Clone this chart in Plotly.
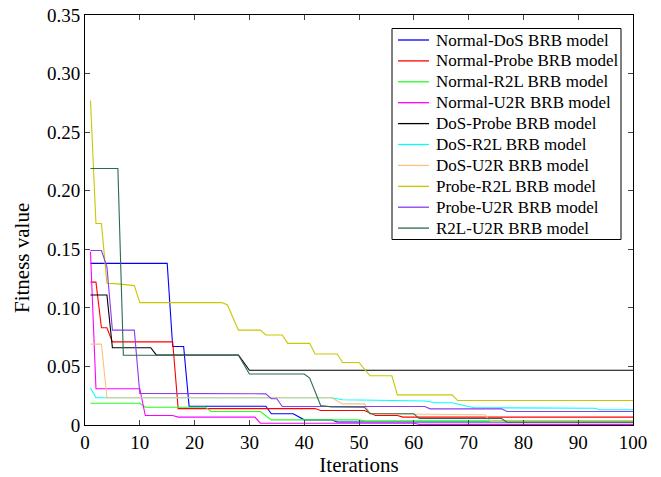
import plotly.graph_objects as go

names = ["Normal-DoS BRB model", "Normal-Probe BRB model", "Normal-R2L BRB model",
         "Normal-U2R BRB model", "DoS-Probe BRB model", "DoS-R2L BRB model",
         "DoS-U2R BRB model", "Probe-R2L BRB model", "Probe-U2R BRB model",
         "R2L-U2R BRB model"]

colors = ["#0000FF", "#FF0000", "#22FF22", "#FF00FF", "#000000", "#00FFFF",
          "#FFBF80", "#C8C800", "#8A3CF0", "#2E6B4A"]

# vertices (iteration, fitness)
normal_dos_x = [1, 15, 16, 18, 19, 33, 34, 38, 40, 45, 46, 100]
normal_dos_y = [0.138, 0.138, 0.067, 0.067, 0.016, 0.016, 0.0096, 0.0096, 0.0044, 0.0044, 0.0025, 0.0025]

normal_probe_x = [1, 2, 3, 4, 5, 16, 17, 42, 43, 51, 53, 57, 58, 100]
normal_probe_y = [0.122, 0.122, 0.083, 0.083, 0.071, 0.071, 0.014, 0.014, 0.0124, 0.0124, 0.0081, 0.0081, 0.0067, 0.0067]

normal_r2l_x = [1, 10, 11, 22, 23, 32, 34, 50, 51, 100]
normal_r2l_y = [0.0186, 0.0186, 0.0152, 0.0152, 0.0115, 0.0115, 0.0044, 0.0044, 0.0035, 0.0035]

normal_u2r_x = [1, 2, 10, 11, 16, 17, 31, 32, 60, 61, 100]
normal_u2r_y = [0.148, 0.031, 0.031, 0.0081, 0.0081, 0.0067, 0.0067, 0.0015, 0.0015, 0.0005, 0.0005]

dos_probe_x = [1, 4, 5, 12, 13, 28, 30, 100]
dos_probe_y = [0.111, 0.111, 0.066, 0.066, 0.0598, 0.0598, 0.0467, 0.0467]

dos_r2l_x = [1, 2, 45, 47, 62, 64, 67, 69, 71, 93, 94, 100]
dos_r2l_y = [0.0315, 0.0232, 0.0232, 0.0215, 0.0205, 0.019, 0.019, 0.0167, 0.0147, 0.0143, 0.013, 0.013]

dos_u2r_x = [1, 3, 4, 45, 47, 51, 52, 73, 74, 100]
dos_u2r_y = [0.069, 0.069, 0.0232, 0.0232, 0.018, 0.018, 0.0096, 0.0087, 0.0032, 0.0032]

probe_r2l_x = [1, 2, 3, 4, 6, 9, 10, 25, 26, 28, 32, 33, 36, 37, 41, 42, 46, 47, 50, 52, 56, 57, 67, 68, 100]
probe_r2l_y = [0.277, 0.172, 0.172, 0.121, 0.1205, 0.119, 0.1045, 0.1045, 0.1025, 0.081, 0.081, 0.0768,
               0.0768, 0.0697, 0.0697, 0.0606, 0.0606, 0.0534, 0.0534, 0.042, 0.042, 0.0257, 0.0257, 0.0209, 0.0209]

probe_u2r_x = [1, 3, 4, 5, 9, 10, 33, 34, 35, 36, 62, 63, 76, 77, 100]
probe_u2r_y = [0.149, 0.149, 0.135, 0.081, 0.081, 0.027, 0.0266, 0.0224, 0.0224, 0.0158, 0.0158, 0.0138, 0.0138, 0.0115, 0.0115]

r2l_u2r_x = [1, 6, 7, 28, 30, 40, 41, 43, 45, 51, 52, 60, 61, 76, 77, 100]
r2l_u2r_y = [0.219, 0.219, 0.0595, 0.0595, 0.0435, 0.0435, 0.040, 0.0167, 0.0155, 0.0152, 0.0096, 0.0096, 0.0055, 0.0055, 0.0024, 0.0024]

series = [(normal_dos_x, normal_dos_y), (normal_probe_x, normal_probe_y),
          (normal_r2l_x, normal_r2l_y), (normal_u2r_x, normal_u2r_y),
          (dos_probe_x, dos_probe_y), (dos_r2l_x, dos_r2l_y),
          (dos_u2r_x, dos_u2r_y), (probe_r2l_x, probe_r2l_y),
          (probe_u2r_x, probe_u2r_y), (r2l_u2r_x, r2l_u2r_y)]

y_ticks = [0, 0.05, 0.10, 0.15, 0.20, 0.25, 0.30, 0.35]
y_ticktext = ["0", "0.05", "0.10", "0.15", "0.20", "0.25", "0.30", "0.35"]
x_ticks = [0, 10, 20, 30, 40, 50, 60, 70, 80, 90, 100]
x_title = "Iterations"
y_title = "Fitness value"

FONT = "Liberation Serif, Times New Roman, serif"
W, H = 661, 477
ML, MR, MT, MB = 85, 28, 15, 52
PW, PH = W - ML - MR, H - MT - MB


def px_x(p):  # page pixel -> paper x
    return (p - ML) / PW


def px_y(p):  # page pixel -> paper y
    return (H - MB - p) / PH


fig = go.Figure()
for name, color, (xs, ys) in zip(names, colors, series):
    fig.add_trace(go.Scatter(x=xs, y=ys, mode="lines", name=name,
                             line=dict(color=color, width=1.1)))

# hand-built legend (box, sample lines, labels) to match the compact spacing
shapes = [dict(type="rect", xref="paper", yref="paper",
               x0=px_x(392), x1=px_x(621), y0=px_y(239.5), y1=px_y(28.5),
               fillcolor="white", line=dict(color="black", width=1), layer="above")]
annotations = []
row0, step = 40.0, 20.9
for i, (name, color) in enumerate(zip(names, colors)):
    yy = px_y(row0 + i * step)
    shapes.append(dict(type="line", xref="paper", yref="paper",
                       x0=px_x(398), x1=px_x(429), y0=yy, y1=yy,
                       line=dict(color=color, width=1.3), layer="above"))
    annotations.append(dict(xref="paper", yref="paper", x=px_x(434), y=yy,
                            text=name, showarrow=False, xanchor="left", yanchor="middle",
                            font=dict(family=FONT, size=17, color="black")))

# y-axis title placed as in the reference (slightly below the axis centre)
annotations.append(dict(xref="paper", yref="paper", x=px_x(22), y=px_y(258),
                        text=y_title, showarrow=False, textangle=-90,
                        xanchor="center", yanchor="middle",
                        font=dict(family=FONT, size=21, color="black")))

fig.update_layout(
    width=W, height=H,
    margin=dict(l=ML, r=MR, t=MT, b=MB, autoexpand=False),
    paper_bgcolor="white", plot_bgcolor="white",
    font=dict(family=FONT, color="black", size=19),
    showlegend=False,
    shapes=shapes, annotations=annotations,
    xaxis=dict(range=[0, 100], tickvals=x_ticks, ticks="inside", ticklen=5,
               showline=True, linecolor="black", linewidth=1, mirror="ticks",
               showgrid=False, zeroline=False, automargin=False,
               title=dict(text=x_title, font=dict(size=21), standoff=4),
               tickfont=dict(size=19)),
    yaxis=dict(range=[0, 0.35], tickvals=y_ticks, ticktext=y_ticktext,
               ticks="inside", ticklen=5,
               showline=True, linecolor="black", linewidth=1, mirror="ticks",
               showgrid=False, zeroline=False, automargin=False,
               tickfont=dict(size=19)),
)

fig.write_html("out.html", config={"displayModeBar": False},
               post_script="document.body.style.margin='0';")
